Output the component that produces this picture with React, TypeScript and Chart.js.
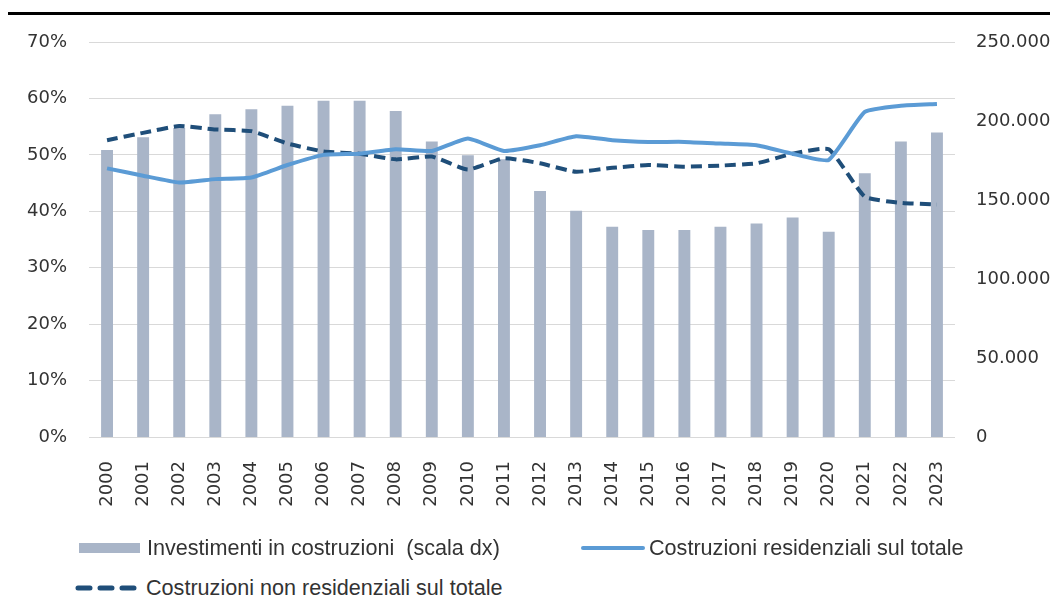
import React, { useEffect, useRef } from 'react';
import { Chart, registerables } from 'chart.js';

Chart.register(...registerables);

const years = [
  '2000', '2001', '2002', '2003', '2004', '2005', '2006', '2007', '2008', '2009', '2010', '2011',
  '2012', '2013', '2014', '2015', '2016', '2017', '2018', '2019', '2020', '2021', '2022', '2023',
];

// Investimenti in costruzioni (scala dx)
const investimenti = [
  181600, 189700, 195600, 204200, 207400, 209700, 212800, 212800, 206300, 187100, 178300, 175800,
  155700, 143200, 133100, 131000, 131000, 133100, 135200, 139000, 129900, 166900, 187100, 192800,
];

// Costruzioni residenziali sul totale (%)
const residenziali = [
  47.6, 46.3, 45.1, 45.7, 46.0, 48.2, 50.0, 50.2, 51.0, 50.7, 52.9, 50.7,
  51.7, 53.3, 52.6, 52.3, 52.3, 52.0, 51.7, 50.2, 49.1, 57.6, 58.7, 59.0,
];

// Costruzioni non residenziali sul totale (%)
const nonResidenziali = [
  52.6, 53.9, 55.1, 54.5, 54.2, 52.0, 50.6, 50.2, 49.2, 49.7, 47.4, 49.4,
  48.5, 47.0, 47.7, 48.2, 47.9, 48.1, 48.5, 50.2, 51.0, 42.6, 41.5, 41.2,
];

const leftMax = 70;
const leftStep = 10;
const rightMax = 250000;
const rightStep = 50000;

const labelInvest = 'Investimenti in costruzioni  (scala dx)';
const labelRes = 'Costruzioni residenziali sul totale';
const labelNonRes = 'Costruzioni non residenziali sul totale';

const BAR_COLOR = '#A9B5C8';
const RES_COLOR = '#5B9BD5';
const NONRES_COLOR = '#1F4E79';
const TEXT_COLOR = '#333333';

const fmtThousands = (v: number) => String(Math.round(v)).replace(/\B(?=(\d{3})+(?!\d))/g, '.');

export default function App() {
  const canvasRef = useRef<HTMLCanvasElement | null>(null);

  useEffect(() => {
    if (!canvasRef.current) return;
    const tickFont = { family: "'DejaVu Sans', sans-serif", size: 18 };
    const chart = new Chart(canvasRef.current, {
      type: 'bar',
      data: {
        labels: years,
        datasets: [
          {
            type: 'line',
            label: labelRes,
            data: residenziali,
            yAxisID: 'y',
            borderColor: RES_COLOR,
            backgroundColor: RES_COLOR,
            borderWidth: 4,
            pointRadius: 0,
            tension: 0.15,
            order: 0,
          },
          {
            type: 'line',
            label: labelNonRes,
            data: nonResidenziali,
            yAxisID: 'y',
            borderColor: NONRES_COLOR,
            backgroundColor: NONRES_COLOR,
            borderWidth: 4,
            borderDash: [11, 6],
            pointRadius: 0,
            tension: 0.15,
            order: 1,
          },
          {
            type: 'bar',
            label: labelInvest,
            data: investimenti,
            yAxisID: 'y1',
            backgroundColor: BAR_COLOR,
            categoryPercentage: 1,
            barPercentage: 0.33,
            order: 2,
          },
        ],
      },
      options: {
        responsive: false,
        animation: false,
        layout: { padding: { top: 34, left: 0, right: 0, bottom: 0 } },
        plugins: {
          legend: { display: false },
          tooltip: { enabled: false },
        },
        scales: {
          x: {
            grid: { display: false, drawTicks: false },
            border: { display: false },
            ticks: {
              minRotation: 90,
              maxRotation: 90,
              autoSkip: false,
              padding: 24,
              color: TEXT_COLOR,
              font: tickFont,
            },
            afterFit: (s: any) => {
              s.height = 100;
            },
          },
          y: {
            position: 'left',
            min: 0,
            max: leftMax,
            grid: { color: '#D9D9D9', lineWidth: 1, drawTicks: false },
            border: { display: false },
            ticks: {
              stepSize: leftStep,
              padding: 22,
              color: TEXT_COLOR,
              font: tickFont,
              callback: (v: any) => `${v}%`,
            },
            afterFit: (s: any) => {
              s.width = 81;
            },
          },
          y1: {
            position: 'right',
            min: 0,
            max: rightMax,
            grid: { display: false, drawTicks: false },
            border: { display: false },
            ticks: {
              stepSize: rightStep,
              padding: 21,
              color: TEXT_COLOR,
              font: tickFont,
              callback: (v: any) => fmtThousands(Number(v)),
            },
            afterFit: (s: any) => {
              s.width = 100;
            },
          },
        },
      },
    });
    return () => chart.destroy();
  }, []);

  const legendText: React.CSSProperties = {
    position: 'absolute',
    fontFamily: "'Liberation Sans', Arial, sans-serif",
    fontSize: 21.6,
    color: TEXT_COLOR,
    whiteSpace: 'pre',
    lineHeight: '26px',
    transform: 'translateY(-50%)',
  };

  return (
    <div style={{ position: 'relative', width: 1047, height: 590, fontFamily: "'DejaVu Sans', sans-serif" }}>
      <div style={{ position: 'absolute', left: -5, top: 4, width: 1047, height: 3, background: '#000' }} />
      <canvas ref={canvasRef} width={1047} height={529} style={{ position: 'absolute', left: 0, top: 0, width: 1047, height: 529 }} />
      {/* legend row 1 */}
      <div style={{ position: 'absolute', left: 71, top: 535, width: 61, height: 10, background: BAR_COLOR }} />
      <div style={{ ...legendText, left: 139, top: 540 }}>{labelInvest}</div>
      <div style={{ position: 'absolute', left: 573, top: 538, width: 64, height: 4, borderRadius: 2, background: RES_COLOR }} />
      <div style={{ ...legendText, left: 641, top: 540 }}>{labelRes}</div>
      {/* legend row 2 */}
      <svg style={{ position: 'absolute', left: 67, top: 574 }} width={62} height={12}>
        <line x1={3} y1={6} x2={59} y2={6} stroke={NONRES_COLOR} strokeWidth={5} strokeDasharray="12 10" strokeLinecap="round" />
      </svg>
      <div style={{ ...legendText, left: 138, top: 580 }}>{labelNonRes}</div>
    </div>
  );
}
